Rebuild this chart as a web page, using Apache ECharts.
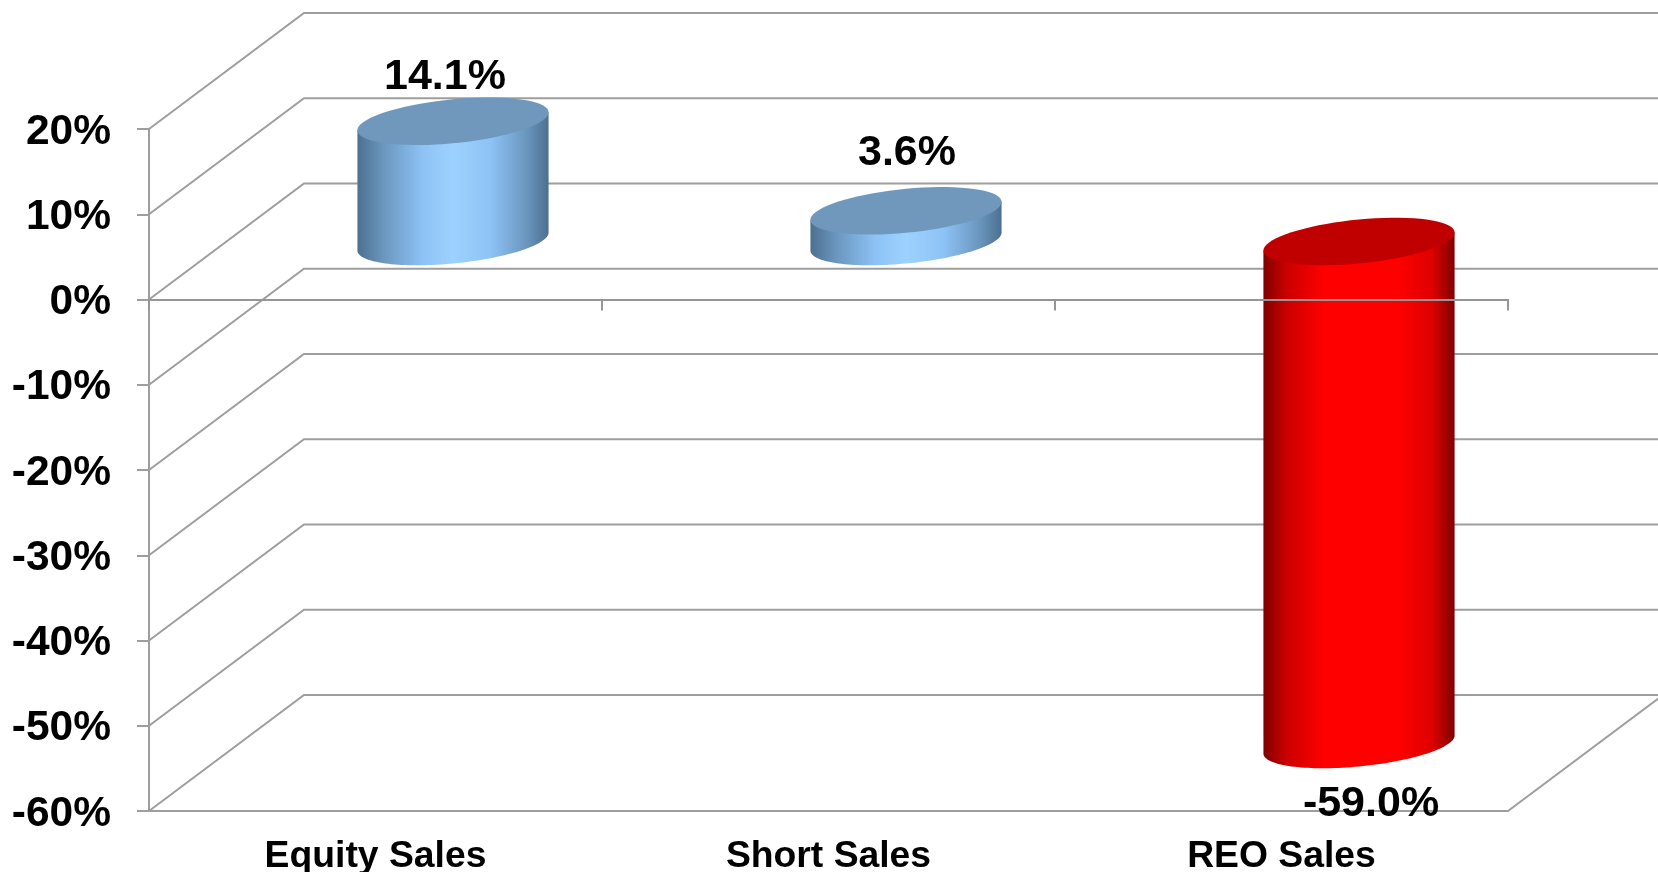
<!DOCTYPE html>
<html>
<head>
<meta charset="utf-8">
<title>Sales change</title>
<style>
    html, body { margin: 0; padding: 0; background: #fff; }
    #chart { width: 1658px; height: 872px; }
</style>
<script src="https://cdn.jsdelivr.net/npm/echarts@6/dist/echarts.min.js"></script>
</head>
<body>
<div id="chart"></div>
<script>
const categories = ['Equity Sales', 'Short Sales', 'REO Sales'];
const salesChange = [14.1, 3.6, -59.0];
const valueLabels = ['14.1%', '3.6%', '-59.0%'];
const yTicks = [20, 10, 0, -10, -20, -30, -40, -50, -60];

const FONT = '"Liberation Sans", Arial, sans-serif';
const LINE_COLOR = '#9e9e9e';
// how far the back wall sits from the front plane
const DEPTH_X = 155;
const DEPTH_Y = -116;
// label position relative to the cylinder centre, picked by eye per bar
const labelShift = [[-8, -44], [1, -58], [12, 60]];

const blueSide = [
    { offset: 0, color: '#4d7091' },
    { offset: 0.14, color: '#6b97bf' },
    { offset: 0.34, color: '#8dc2f5' },
    { offset: 0.5, color: '#9dd2ff' },
    { offset: 0.7, color: '#8dc2f5' },
    { offset: 0.88, color: '#6b97bf' },
    { offset: 1, color: '#4d7091' }
];
const redSide = [
    { offset: 0, color: '#7f0000' },
    { offset: 0.12, color: '#cc0000' },
    { offset: 0.32, color: '#ff0000' },
    { offset: 0.7, color: '#ff0000' },
    { offset: 0.88, color: '#e00000' },
    { offset: 1, color: '#7f0000' }
];

function renderWall(params, api) {
    const sys = params.coordSys;
    const y = api.coord([0, api.value(1)])[1];
    const children = [{
        type: 'polyline',
        shape: { points: [[sys.x, y], [sys.x + DEPTH_X, y + DEPTH_Y], [sys.x + sys.width + DEPTH_X, y + DEPTH_Y]] },
        style: { fill: null, stroke: LINE_COLOR, lineWidth: 2 }
    }];
    if (api.value(1) === yTicks[yTicks.length - 1]) {
        children.push({
            type: 'line',
            shape: { x1: sys.x + sys.width, y1: y, x2: sys.x + sys.width + DEPTH_X, y2: y + DEPTH_Y },
            style: { stroke: LINE_COLOR, lineWidth: 2 }
        });
    }
    return { type: 'group', children: children };
}

function ellipsePoint(cx, cy, rx, t) {
    return [cx + rx * Math.cos(t), cy - 9 * Math.cos(t) + 22 * Math.sin(t)];
}

function renderCylinder(params, api) {
    const value = api.value(1);
    const i = api.value(0);
    const zero = api.coord([i, 0]);
    const end = api.coord([i, value]);
    const rx = api.size([1, 0])[0] * 0.211;
    const cx = zero[0] + DEPTH_X / 2;
    const zeroY = zero[1] + DEPTH_Y / 2;
    const endY = end[1] + DEPTH_Y / 2;
    const topY = Math.min(zeroY, endY);
    const bottomY = Math.max(zeroY, endY);
    const isUp = value >= 0;

    const side = [];
    const top = [];
    for (let k = 0; k <= 72; k++) {
        side.push(ellipsePoint(cx, bottomY, rx, k / 72 * Math.PI));
        top.push(ellipsePoint(cx, topY, rx, k / 36 * Math.PI));
    }
    side.push(ellipsePoint(cx, topY, rx, Math.PI));
    side.push(ellipsePoint(cx, topY, rx, 0));

    return {
        type: 'group',
        children: [{
            type: 'polygon',
            shape: { points: side },
            style: { fill: new echarts.graphic.LinearGradient(0, 0, 1, 0, isUp ? blueSide : redSide) }
        }, {
            type: 'polygon',
            shape: { points: top },
            style: { fill: isUp ? '#7098bd' : '#c00000' }
        }, {
            type: 'text',
            x: cx + labelShift[i][0],
            y: endY + labelShift[i][1],
            style: {
                text: valueLabels[i],
                fill: '#000',
                font: 'bold 43px ' + FONT,
                align: 'center',
                verticalAlign: 'middle'
            }
        }]
    };
}

const chart = echarts.init(document.getElementById('chart'));
chart.setOption({
    animation: false,
    backgroundColor: '#fff',
    grid: { left: 149, right: 150, top: 129, bottom: 61, outerBoundsMode: 'none' },
    xAxis: [{
        type: 'category',
        data: categories,
        position: 'bottom',
        axisLine: { onZero: false, lineStyle: { color: LINE_COLOR, width: 2 } },
        axisTick: { show: false },
        axisLabel: {
            margin: 27,
            color: '#000',
            fontFamily: FONT,
            fontWeight: 'bold',
            fontSize: 37.3
        }
    }, {
        // the zero line with its ticks runs over the bars
        type: 'category',
        data: categories,
        position: 'bottom',
        z: 6,
        axisLine: { onZero: true, lineStyle: { color: '#969696', width: 2 } },
        axisTick: { show: true, length: 11, lineStyle: { color: '#969696', width: 2 } },
        axisLabel: { show: false }
    }],
    yAxis: {
        type: 'value',
        min: -60,
        max: 20,
        interval: 10,
        splitLine: { show: false },
        axisLine: { show: true, lineStyle: { color: LINE_COLOR, width: 2 } },
        axisTick: { show: true, length: 12, lineStyle: { color: LINE_COLOR, width: 2 } },
        axisLabel: {
            margin: 38,
            formatter: v => '{tick|' + v + '%}',
            rich: {
                tick: {
                    color: '#000',
                    fontFamily: FONT,
                    fontWeight: 'bold',
                    fontSize: 42.5,
                    padding: [6, 0, 0, 0]
                }
            }
        }
    },
    series: [{
        name: 'walls',
        type: 'custom',
        z: 1,
        silent: true,
        renderItem: renderWall,
        data: yTicks.map(v => [0, v])
    }, {
        name: 'sales',
        type: 'custom',
        z: 3,
        silent: true,
        renderItem: renderCylinder,
        data: salesChange.map((v, i) => [i, v])
    }]
});
</script>
</body>
</html>
